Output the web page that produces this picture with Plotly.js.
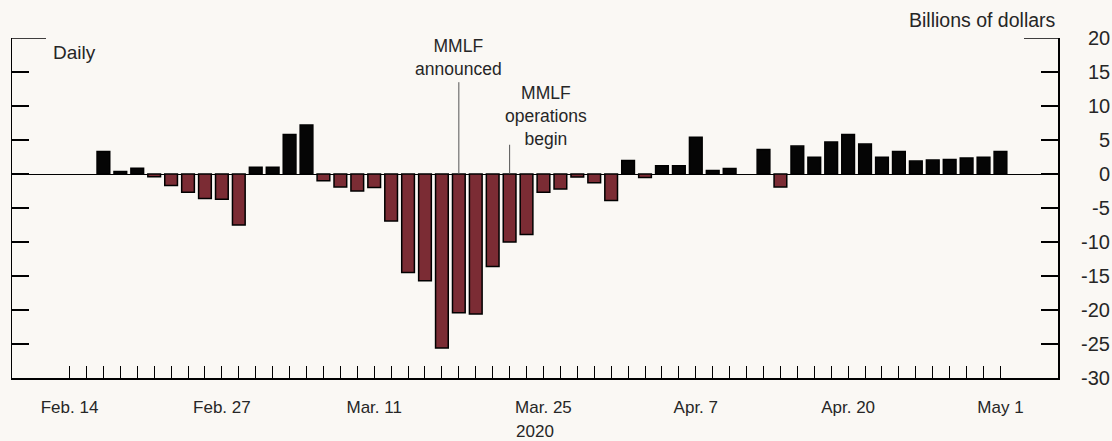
<!DOCTYPE html>
<html>
<head>
<meta charset="utf-8">
<script src="https://cdn.plot.ly/plotly-3.0.1.min.js"></script>
<style>
  html, body { margin: 0; padding: 0; background: #faf8f4; }
  #chart { width: 1112px; height: 441px; }
</style>
</head>
<body>
<div id="chart"></div>
<script>
// Business days (categories) shown on the x axis
const dates = [
  "2020-02-14","2020-02-17","2020-02-18","2020-02-19","2020-02-20","2020-02-21",
  "2020-02-24","2020-02-25","2020-02-26","2020-02-27","2020-02-28",
  "2020-03-02","2020-03-03","2020-03-04","2020-03-05","2020-03-06",
  "2020-03-09","2020-03-10","2020-03-11","2020-03-12","2020-03-13",
  "2020-03-16","2020-03-17","2020-03-18","2020-03-19","2020-03-20",
  "2020-03-23","2020-03-24","2020-03-25","2020-03-26","2020-03-27",
  "2020-03-30","2020-03-31","2020-04-01","2020-04-02","2020-04-03",
  "2020-04-06","2020-04-07","2020-04-08","2020-04-09","2020-04-10",
  "2020-04-13","2020-04-14","2020-04-15","2020-04-16","2020-04-17",
  "2020-04-20","2020-04-21","2020-04-22","2020-04-23","2020-04-24",
  "2020-04-27","2020-04-28","2020-04-29","2020-04-30","2020-05-01"
];

// Daily change, billions of dollars (null = no observation)
const values = [
  null, null, 3.3, 0.35, 0.85, -0.4,
  -1.7, -2.7, -3.6, -3.7, -7.5,
  1.0, 1.0, 5.8, 7.2, -1.0,
  -1.9, -2.5, -2.0, -6.9, -14.5,
  -15.7, -25.6, -20.4, -20.6, -13.6,
  -10.0, -8.9, -2.7, -2.2, -0.45,
  -1.3, -3.9, 2.0, -0.5, 1.2,
  1.2, 5.4, 0.5, 0.8, null,
  3.6, -1.9, 4.1, 2.45, 4.7,
  5.8, 4.4, 2.45, 3.3, 1.9,
  2.05, 2.15, 2.35, 2.45, 3.3
];

// Labelled x ticks
const xTickDates  = ["2020-02-14","2020-02-27","2020-03-11","2020-03-25","2020-04-07","2020-04-20","2020-05-01"];
const xTickLabels = ["Feb. 14","Feb. 27","Mar. 11","Mar. 25","Apr. 7","Apr. 20","May 1"];

// Y ticks
const yTicks = [20, 15, 10, 5, 0, -5, -10, -15, -20, -25, -30];

// Event markers
const eventDates  = ["2020-03-18", "2020-03-23"];
const eventLabels = ["MMLF<br>announced", "MMLF<br>operations<br>begin"];
const eventLineTops = [13.5, 4.3];

const POS = "#050505", NEG = "#7b2c34";
const FONT = "Liberation Sans, Arial, sans-serif";
const TXT = "#262626";

const tickText = dates.map(d => {
  const i = xTickDates.indexOf(d);
  return i >= 0 ? xTickLabels[i] : "";
});

const trace = {
  type: "bar",
  x: dates,
  y: values,
  marker: {
    color: values.map(v => (v !== null && v < 0) ? NEG : POS),
    line: { color: "#000", width: 1.5 }
  },
  hoverinfo: "x+y"
};

const shapes = [];
eventDates.forEach((d, k) => {
  shapes.push({
    type: "line", xref: "x", yref: "y",
    x0: d, x1: d, y0: 0, y1: eventLineTops[k],
    line: { color: "#555", width: 1 }
  });
});
// longer top segments at the 20 tick on both sides
shapes.push({ type: "line", xref: "paper", yref: "y", x0: 0, x1: 0.0325, y0: 20, y1: 20, line: { color: "#000", width: 1.5 } });
shapes.push({ type: "line", xref: "paper", yref: "y", x0: 0.9675, x1: 1, y0: 20, y1: 20, line: { color: "#000", width: 1.5 } });

const annotations = [];
annotations.push({
  text: eventLabels[0], x: eventDates[0], y: 17.1, xref: "x", yref: "y",
  showarrow: false, xanchor: "center", yanchor: "middle",
  font: { family: FONT, size: 17.5, color: TXT }
});
annotations.push({
  text: eventLabels[1], x: eventDates[1], y: 8.6, xref: "x", yref: "y", xshift: 36,
  showarrow: false, xanchor: "center", yanchor: "middle",
  font: { family: FONT, size: 17.5, color: TXT }
});
annotations.push({
  text: "Daily", x: 0.037, y: 0.958, xref: "paper", yref: "paper",
  showarrow: false, xanchor: "left", yanchor: "middle",
  font: { family: FONT, size: 19, color: TXT }
});
annotations.push({
  text: "Billions of dollars", x: 1, y: 1.052, xref: "paper", yref: "paper",
  showarrow: false, xanchor: "right", yanchor: "middle",
  font: { family: FONT, size: 19.5, color: TXT }
});
// right-aligned y tick labels
yTicks.forEach(v => {
  annotations.push({
    text: String(v), x: 1, xref: "paper", xshift: 54, y: v, yref: "y",
    showarrow: false, xanchor: "right", yanchor: "middle",
    font: { family: FONT, size: 20, color: TXT }
  });
});

const layout = {
  width: 1112, height: 441,
  paper_bgcolor: "#faf8f4", plot_bgcolor: "#faf8f4",
  margin: { l: 12, r: 54, t: 38, b: 63 },
  showlegend: false,
  bargap: 0.25,
  font: { family: FONT, size: 16, color: TXT },
  xaxis: {
    type: "category",
    categoryorder: "array", categoryarray: dates,
    range: [-3.4, 58.4],
    tickmode: "array", tickvals: dates, ticktext: tickText,
    ticks: "inside", ticklen: 12, tickwidth: 1, tickcolor: "#000",
    showline: true, linecolor: "#000", linewidth: 1.5,
    showgrid: false, zeroline: false,
    tickangle: 0,
    ticklabelstandoff: 13,
    tickfont: { family: FONT, size: 17, color: TXT },
    title: { text: "2020", standoff: 11, font: { family: FONT, size: 17, color: TXT } }
  },
  yaxis: {
    side: "right",
    range: [-30, 20],
    tickmode: "array", tickvals: yTicks,
    ticks: "inside", ticklen: 17, tickwidth: 1.5, tickcolor: "#000",
    showticklabels: false,
    showline: true, linecolor: "#000", linewidth: 1.5,
    mirror: "allticks",
    showgrid: false,
    zeroline: true, zerolinecolor: "#000", zerolinewidth: 1
  },
  shapes: shapes,
  annotations: annotations
};

Plotly.newPlot("chart", [trace], layout, { displayModeBar: false, staticPlot: true });
</script>
</body>
</html>
